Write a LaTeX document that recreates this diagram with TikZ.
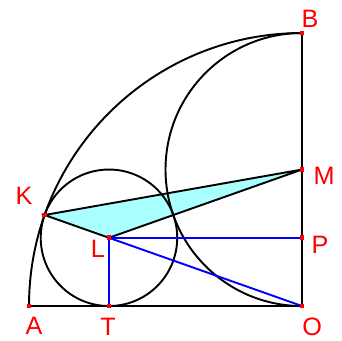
\documentclass[tikz,border=0pt]{standalone}
\usepackage{fontspec}
\setmainfont{Liberation Sans}
\usepackage{tikz}
\usetikzlibrary{calc,positioning}

\definecolor{lightcyan}{RGB}{170,255,255}
\tikzset{
    pt/.style={fill=red,inner sep=0pt,minimum size=2pt},
    lab/.style={text=red,font=\fontsize{10.5}{12}\selectfont,inner sep=0pt}
}

\begin{document}
\begin{tikzpicture}[line width=0.8pt]
    \useasboundingbox (-4.425,-0.498) rectangle (0.586,4.484);
    \coordinate (O) at (0,0);
    \coordinate (A) at (-4,0);
    \coordinate (B) at (0,4);
    \coordinate (M) at (0,2);
    \coordinate (P) at (0,1);
    \coordinate (L) at ({-2*sqrt(2)},1);
    \coordinate (T) at ({-2*sqrt(2)},0);
    \coordinate (K) at ({-8*sqrt(2)/3},{4/3});
    \fill[lightcyan] (K) -- (L) -- (M) -- cycle;
    \draw (K) -- (L) -- (M) -- cycle;
    \draw (A) -- (O) -- (B);
    \draw (A) arc[start angle=180,end angle=90,radius=4];
    \draw (B) arc[start angle=90,end angle=270,radius=2];
    \draw (L) circle (1);
    \draw[blue] (T) -- (L) -- (P);
    \draw[blue] (L) -- (O);
    \foreach \p in {O,A,B,M,P,L,T,K}
        \node[pt] (d\p) at (\p) {};
    \node[lab] (lA) at ($(A)+(0.073,-0.293)$) {A};
    \node[lab] (lT) at ($(T)+(-0.014,-0.308)$) {T};
    \node[lab] (lO) at ($(O)+(0.147,-0.308)$) {O};
    \node[lab] (lB) at ($(B)+(0.117,0.205)$) {B};
    \node[lab] (lM) at ($(M)+(0.322,-0.095)$) {M};
    \node[lab] (lP) at ($(P)+(0.264,-0.106)$) {P};
    \node[lab] (lK) at ($(K)+(-0.302,0.279)$) {K};
    \node[lab] (lL) at ($(L)+(-0.161,-0.165)$) {L};
\end{tikzpicture}
\end{document}
